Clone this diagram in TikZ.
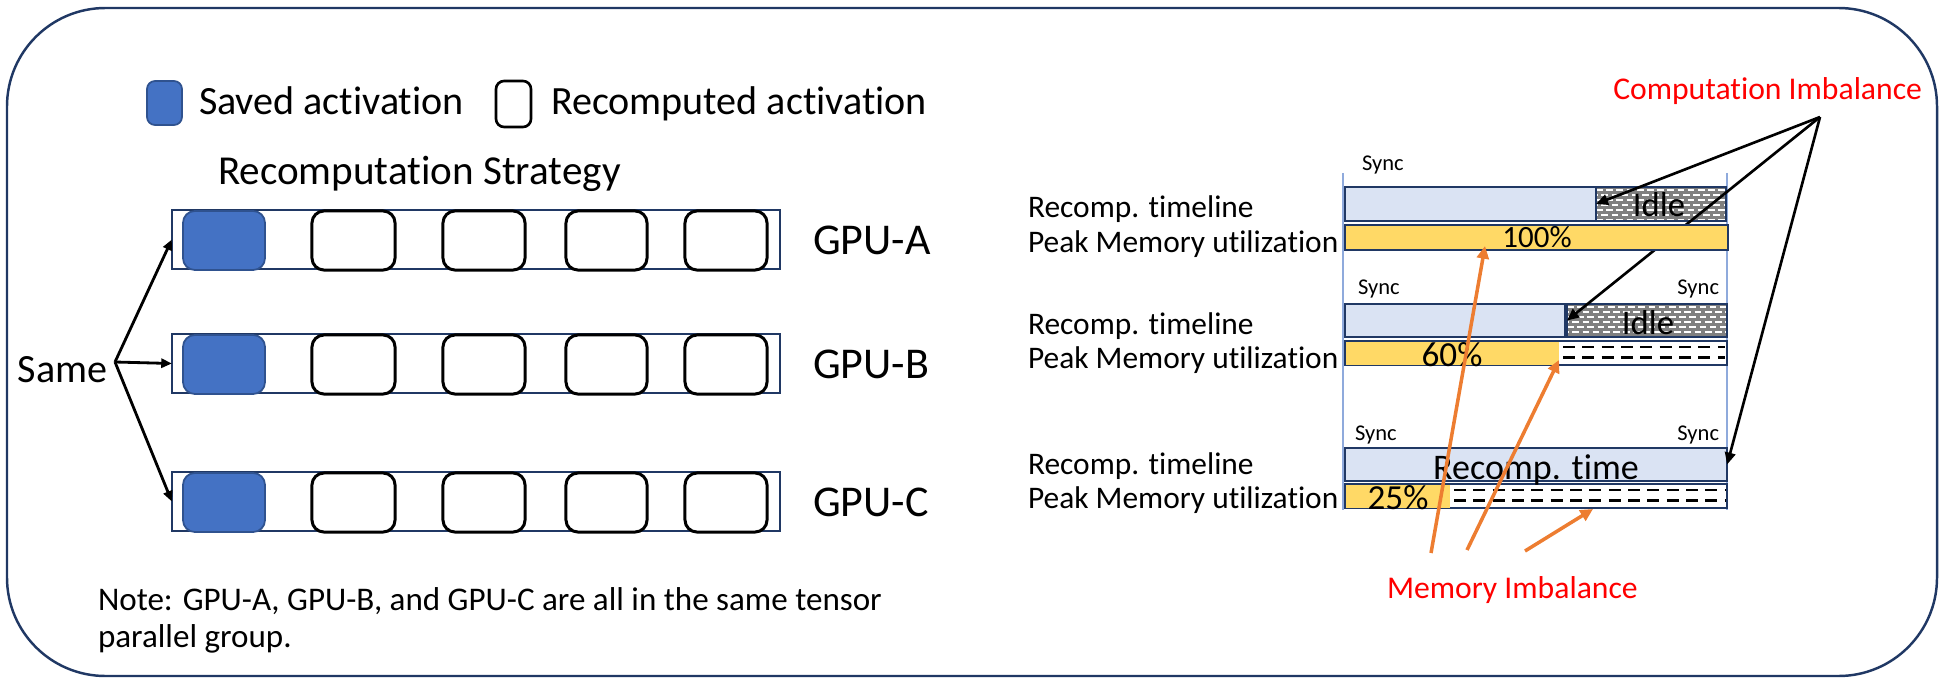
\documentclass[tikz,border=0pt]{standalone}
\usepackage{fontspec}
\setmainfont{Carlito}[Ligatures={NoCommon}]
\usetikzlibrary{arrows.meta}

\definecolor{navy}{HTML}{203864}
\definecolor{actblue}{HTML}{4472C4}
\definecolor{actedge}{HTML}{2F528F}
\definecolor{barblue}{HTML}{DAE3F3}
\definecolor{memyellow}{HTML}{FFD966}
\definecolor{idlegray}{HTML}{808080}
\definecolor{syncline}{HTML}{8FAADC}
\definecolor{arrorange}{HTML}{ED7D31}
\definecolor{alertred}{HTML}{FF0000}

% rectangle node given by its corners (in px units of the picture)
\newcommand\boxat[6]{%
  \pgfmathsetmacro\bw{(#5-#3)/100}%
  \pgfmathsetmacro\bh{(#6-#4)/100}%
  \node[#2, minimum width=\bw cm, minimum height=\bh cm, inner sep=0pt, outer sep=0pt]
    (#1) at ({(#3+#5)/2},{(#4+#6)/2}) {};}

% grey area with rows of white dashes (idle time)
\newcommand\idlehatch[4]{%
  \begin{scope}
    \clip (#1,#2) rectangle (#3,#4);
    \fill[idlegray] (#1,#2) rectangle (#3,#4);
    \foreach \k in {0,...,7}{
      \pgfmathsetmacro\yy{#2+3+\k*5}
      \pgfmathsetmacro\ph{mod(\k,2)*1.4}
      \draw[white, line width=0.5pt, dash pattern=on 1.9pt off 1pt, dash phase=\ph pt]
        (#1,\yy) -- (#3,\yy);
    }
  \end{scope}}

% two dashed black lines marking unused memory
\newcommand\memdash[4]{%
  \draw[black, line width=0.6pt, dash pattern=on 3.4pt off 2.1pt] (#1+4,#2+6) -- (#3-2,#2+6);
  \draw[black, line width=0.6pt, dash pattern=on 3.4pt off 2.1pt] (#1+4,#2+16.5) -- (#3-2,#2+16.5);}

\begin{document}
\begin{tikzpicture}[x=0.01cm, y=-0.01cm,
  txt/.style={inner sep=0pt, outer sep=0pt, anchor=base west},
  txtc/.style={inner sep=0pt, outer sep=0pt, anchor=base},
  txte/.style={inner sep=0pt, outer sep=0pt, anchor=base east},
  legendfont/.style={font=\fontsize{11.4}{13.7}\selectfont},
  gpufont/.style={font=\fontsize{12.5}{15}\selectfont},
  lblfont/.style={font=\fontsize{8.93}{10.7}\selectfont},
  syncfont/.style={font=\fontsize{6.4}{7.7}\selectfont},
  redfont/.style={font=\fontsize{9.0}{10.8}\selectfont, text=alertred},
  rowbox/.style={draw=navy, line width=0.45pt, fill=white},
  savedbox/.style={draw=actedge, line width=0.5pt, fill=actblue, rounded corners=3.4pt},
  recbox/.style={draw=black, line width=0.85pt, fill=white, rounded corners=3.4pt},
  tlbox/.style={draw=navy, line width=0.6pt, fill=barblue},
  idlebox/.style={draw=navy, line width=0.6pt},
  membox/.style={draw=navy, line width=0.5pt, fill=white},
  blackarrow/.style={draw=black, line width=0.75pt, -{Triangle[length=3.4pt,width=3pt]}},
  fanarrow/.style={draw=black, line width=0.8pt, -{Triangle[length=3pt,width=2.6pt]}},
  orangearrow/.style={draw=arrorange, line width=1pt, -{Triangle[length=3.6pt,width=3.4pt]}}
]
\useasboundingbox (0,0) rectangle (1943,679);

% outer frame
\draw[navy, line width=0.7pt, rounded corners=28pt] (7,8) rectangle (1937,676);

% ---------- legend ----------
\boxat{legsaved}{savedbox, rounded corners=2.3pt}{147}{81}{182}{125}
\node[txt, legendfont] (legsavedtxt) at (199,115) {Saved activation};
\boxat{legrec}{recbox, line width=0.75pt, rounded corners=2.3pt}{496}{81}{531}{127}
\node[txt, legendfont] (legrectxt) at (551,115) {Recomputed activation};
\node[txt, font=\fontsize{11.7}{14}\selectfont] (strategy) at (218,185) {Recomputation Strategy};

% ---------- GPU rows ----------
\foreach \r/\top/\lbl in {A/210/GPU-A, B/334/GPU-B, C/472/GPU-C}{
  \pgfmathsetmacro\bot{\top+59}
  \boxat{row\r}{rowbox}{172}{\top}{780}{\bot}
  \pgfmathsetmacro\bt{\top+1}
  \pgfmathsetmacro\bb{\top+60}
  \boxat{saved\r}{savedbox}{183}{\bt}{265}{\bb}
  \boxat{rec\r1}{recbox}{312}{\bt}{395}{\bb}
  \boxat{rec\r2}{recbox}{443}{\bt}{525}{\bb}
  \boxat{rec\r3}{recbox}{566}{\bt}{647}{\bb}
  \boxat{rec\r4}{recbox}{685}{\bt}{767}{\bb}
  \pgfmathsetmacro\bl{\top+44}
  \node[txt, gpufont] (gpu\r) at (813,\bl) {\lbl};
}

\node[txt, legendfont] (same) at (18,382) {Same};
\coordinate (fork) at (115,362);
\draw[fanarrow] (fork) -- (rowA.west);
\draw[fanarrow] (fork) -- (rowB.west);
\draw[fanarrow] (fork) -- (rowC.west);

\node[txt, font=\fontsize{9.4}{11}\selectfont] (note1) at (98,610)
  {Note: GPU-A, GPU-B, and GPU-C are all in the same tensor};
\node[txt, font=\fontsize{9.4}{11}\selectfont] (note2) at (98,647) {parallel group.};

% ---------- timelines ----------
\draw[syncline, line width=0.5pt] (1343,173) -- (1343,510);
\draw[syncline, line width=0.5pt] (1727,173) -- (1727,510);

% row 1
\boxat{tl1}{tlbox}{1345}{187}{1596}{221}
\idlehatch{1596}{187}{1726}{221}
\boxat{idle1}{idlebox}{1596}{187}{1726}{221}
% row 2
\boxat{tl2}{tlbox}{1345}{304}{1565}{337}
\idlehatch{1567}{304}{1727}{337}
\boxat{idle2}{idlebox}{1567}{304}{1727}{337}
% row 3
\boxat{tl3}{tlbox}{1345}{448}{1727}{481}

% computation imbalance pointers
\node[txte, redfont] (compimb) at (1922,100) {Computation Imbalance};
\coordinate (ci) at (1820,117);
\draw[blackarrow] (ci) -- (idle1.west);
\draw[blackarrow] (ci) -- (idle2.west);
\draw[blackarrow] (ci) -- (tl3.east);

% memory bars
\boxat{mem1}{membox, fill=memyellow}{1345}{225}{1728}{250}
\boxat{mem2}{membox}{1345}{341}{1727}{365}
\fill[memyellow] (1346,342) rectangle (1559,364.5);
\memdash{1559}{341}{1727}{365}
\boxat{mem3}{membox}{1345}{484}{1727}{508}
\fill[memyellow] (1346,485) rectangle (1450,507.5);
\memdash{1450}{484}{1727}{508}

% labels of the timelines
\foreach \n/\ya/\yb in {1/217/252, 2/334/368, 3/474/508}{
  \node[txt, lblfont] (tllbl\n) at (1028,\ya) {Recomp. timeline};
  \node[txt, lblfont] (memlbl\n) at (1028,\yb) {Peak Memory utilization};
}
\node[txt, syncfont] (sync1) at (1362,171) {Sync};
\node[txt, syncfont] (sync2l) at (1358,294) {Sync};
\node[txte, syncfont] (sync2r) at (1719,294) {Sync};
\node[txt, syncfont] (sync3l) at (1355,440) {Sync};
\node[txte, syncfont] (sync3r) at (1719,440) {Sync};

\node[txtc, font=\fontsize{9.85}{11.8}\selectfont] (idletxt1) at (1659,216) {Idle};
\node[txtc, font=\fontsize{9.85}{11.8}\selectfont] (idletxt2) at (1648,334) {Idle};
\node[txtc, font=\fontsize{8.8}{10.6}\selectfont] (pct100) at (1537,248) {100\%};
\node[txtc, font=\fontsize{10}{12}\selectfont] (pct60) at (1452,366) {60\%};
\node[txtc, font=\fontsize{10}{12}\selectfont] (pct25) at (1398,509) {25\%};
\node[txtc, font=\fontsize{10.25}{12.3}\selectfont] (rtime) at (1536,479) {Recomp. time};

% memory imbalance pointers
\node[txt, redfont] (memimb) at (1387,598) {Memory Imbalance};
\coordinate (mo1) at (1431,553);
\coordinate (mo2) at (1467,550);
\coordinate (mo3) at (1525,551);
\coordinate (mt1) at (1485,246);
\coordinate (mt2) at (1559,360);
\coordinate (mt3) at (1593,509);
\draw[orangearrow] (mo1) -- (mt1);
\draw[orangearrow] (mo2) -- (mt2);
\draw[orangearrow] (mo3) -- (mt3);
\end{tikzpicture}
\end{document}
